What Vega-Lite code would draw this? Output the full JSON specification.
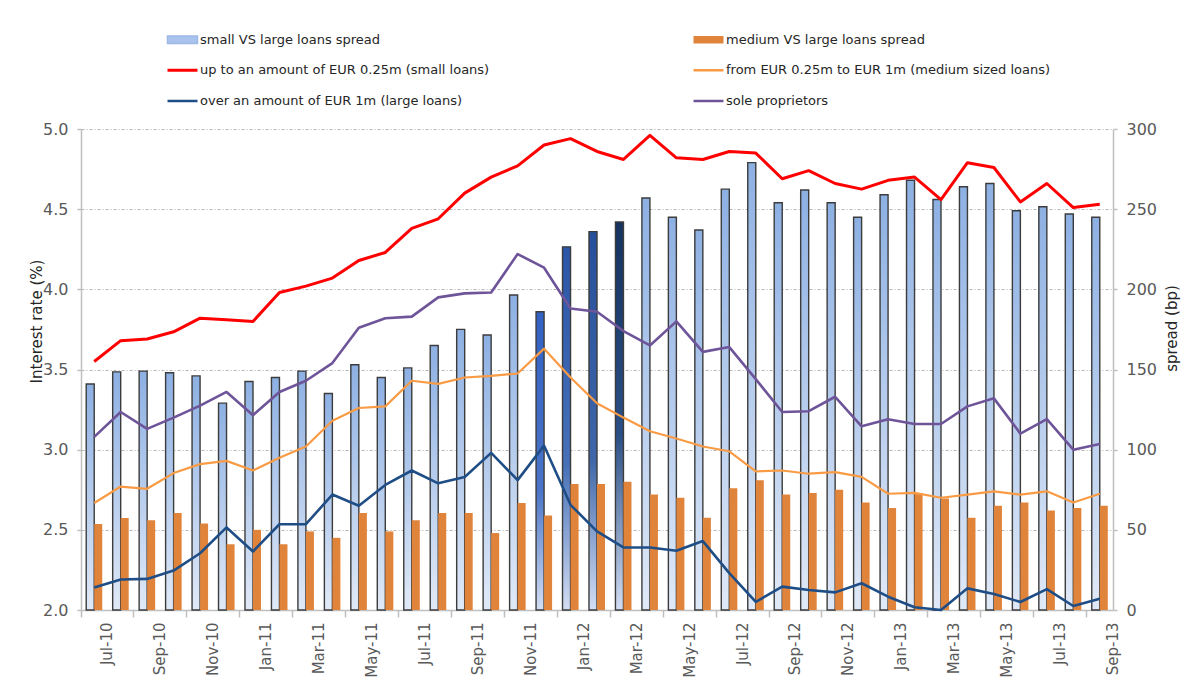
{
  "$schema": "https://vega.github.io/schema/vega-lite/v6.json",
  "width": 1032,
  "height": 481,
  "autosize": "none",
  "padding": {"left": 81, "top": 129, "right": 74, "bottom": 71},
  "background": "white",
  "config": {
    "font": "DejaVu Sans",
    "view": {"stroke": null},
    "axis": {"labelFont": "DejaVu Sans", "titleFont": "DejaVu Sans", "domainColor": "#bfbfbf", "domainWidth": 1.5, "tickColor": "#bfbfbf", "tickWidth": 1.5}
  },
  "data": {
    "values": [
      {"month": "Jul-10", "small": 3.55, "medium": 2.667, "large": 2.14, "sole": 3.08, "spread_small": 141, "spread_medium": 53.6},
      {"month": "Aug-10", "small": 3.68, "medium": 2.77, "large": 2.19, "sole": 3.235, "spread_small": 148.5, "spread_medium": 57.4},
      {"month": "Sep-10", "small": 3.69, "medium": 2.756, "large": 2.194, "sole": 3.13, "spread_small": 149, "spread_medium": 56},
      {"month": "Oct-10", "small": 3.735, "medium": 2.854, "large": 2.246, "sole": 3.2, "spread_small": 148, "spread_medium": 60.5},
      {"month": "Nov-10", "small": 3.82, "medium": 2.91, "large": 2.354, "sole": 3.275, "spread_small": 146, "spread_medium": 54},
      {"month": "Dec-10", "small": 3.81, "medium": 2.93, "large": 2.515, "sole": 3.36, "spread_small": 129, "spread_medium": 41},
      {"month": "Jan-11", "small": 3.8, "medium": 2.87, "large": 2.365, "sole": 3.215, "spread_small": 142.5, "spread_medium": 50},
      {"month": "Feb-11", "small": 3.98, "medium": 2.95, "large": 2.535, "sole": 3.36, "spread_small": 145, "spread_medium": 41},
      {"month": "Mar-11", "small": 4.02, "medium": 3.02, "large": 2.535, "sole": 3.43, "spread_small": 149, "spread_medium": 49},
      {"month": "Apr-11", "small": 4.07, "medium": 3.18, "large": 2.72, "sole": 3.54, "spread_small": 135, "spread_medium": 45},
      {"month": "May-11", "small": 4.18, "medium": 3.26, "large": 2.65, "sole": 3.76, "spread_small": 153, "spread_medium": 60.5},
      {"month": "Jun-11", "small": 4.23, "medium": 3.27, "large": 2.78, "sole": 3.82, "spread_small": 145, "spread_medium": 49},
      {"month": "Jul-11", "small": 4.38, "medium": 3.43, "large": 2.87, "sole": 3.83, "spread_small": 151, "spread_medium": 56},
      {"month": "Aug-11", "small": 4.44, "medium": 3.41, "large": 2.79, "sole": 3.95, "spread_small": 165, "spread_medium": 60.5},
      {"month": "Sep-11", "small": 4.6, "medium": 3.45, "large": 2.83, "sole": 3.975, "spread_small": 175, "spread_medium": 60.5},
      {"month": "Oct-11", "small": 4.7, "medium": 3.46, "large": 2.98, "sole": 3.98, "spread_small": 171.5, "spread_medium": 48},
      {"month": "Nov-11", "small": 4.77, "medium": 3.475, "large": 2.81, "sole": 4.22, "spread_small": 196.5, "spread_medium": 66.7},
      {"month": "Dec-11", "small": 4.9, "medium": 3.63, "large": 3.025, "sole": 4.135, "spread_small": 186, "spread_medium": 59},
      {"month": "Jan-12", "small": 4.94, "medium": 3.45, "large": 2.656, "sole": 3.88, "spread_small": 226.5, "spread_medium": 78.6},
      {"month": "Feb-12", "small": 4.86, "medium": 3.29, "large": 2.49, "sole": 3.86, "spread_small": 236, "spread_medium": 78.6},
      {"month": "Mar-12", "small": 4.81, "medium": 3.2, "large": 2.39, "sole": 3.74, "spread_small": 242, "spread_medium": 80},
      {"month": "Apr-12", "small": 4.96, "medium": 3.115, "large": 2.39, "sole": 3.65, "spread_small": 257, "spread_medium": 72},
      {"month": "May-12", "small": 4.82, "medium": 3.07, "large": 2.37, "sole": 3.8, "spread_small": 245, "spread_medium": 70},
      {"month": "Jun-12", "small": 4.81, "medium": 3.02, "large": 2.43, "sole": 3.61, "spread_small": 237, "spread_medium": 57.5},
      {"month": "Jul-12", "small": 4.86, "medium": 2.99, "large": 2.23, "sole": 3.64, "spread_small": 262.5, "spread_medium": 76},
      {"month": "Aug-12", "small": 4.85, "medium": 2.865, "large": 2.05, "sole": 3.44, "spread_small": 279, "spread_medium": 81},
      {"month": "Sep-12", "small": 4.69, "medium": 2.87, "large": 2.146, "sole": 3.235, "spread_small": 254, "spread_medium": 72},
      {"month": "Oct-12", "small": 4.74, "medium": 2.85, "large": 2.125, "sole": 3.24, "spread_small": 262, "spread_medium": 73},
      {"month": "Nov-12", "small": 4.66, "medium": 2.86, "large": 2.11, "sole": 3.33, "spread_small": 254, "spread_medium": 75},
      {"month": "Dec-12", "small": 4.625, "medium": 2.83, "large": 2.167, "sole": 3.146, "spread_small": 245, "spread_medium": 67},
      {"month": "Jan-13", "small": 4.68, "medium": 2.725, "large": 2.083, "sole": 3.19, "spread_small": 259, "spread_medium": 63.6},
      {"month": "Feb-13", "small": 4.7, "medium": 2.73, "large": 2.017, "sole": 3.16, "spread_small": 268, "spread_medium": 73},
      {"month": "Mar-13", "small": 4.56, "medium": 2.7, "large": 2.0, "sole": 3.16, "spread_small": 256, "spread_medium": 69.6},
      {"month": "Apr-13", "small": 4.79, "medium": 2.72, "large": 2.135, "sole": 3.27, "spread_small": 264, "spread_medium": 57.5},
      {"month": "May-13", "small": 4.76, "medium": 2.74, "large": 2.1, "sole": 3.32, "spread_small": 266, "spread_medium": 65},
      {"month": "Jun-13", "small": 4.545, "medium": 2.72, "large": 2.05, "sole": 3.1, "spread_small": 249, "spread_medium": 67},
      {"month": "Jul-13", "small": 4.66, "medium": 2.74, "large": 2.13, "sole": 3.19, "spread_small": 251.5, "spread_medium": 62},
      {"month": "Aug-13", "small": 4.51, "medium": 2.67, "large": 2.025, "sole": 3.0, "spread_small": 247, "spread_medium": 63.6},
      {"month": "Sep-13", "small": 4.53, "medium": 2.725, "large": 2.07, "sole": 3.035, "spread_small": 245, "spread_medium": 65}
    ]
  },
  "layer": [
    {
      "transform": [{"fold": ["spread_small", "spread_medium"], "as": ["key", "value"]}],
      "mark": {"type": "bar", "strokeWidth": 1.4},
      "encoding": {
        "x": {
          "field": "month", "type": "ordinal", "sort": null,
          "scale": {"paddingInner": 0, "paddingOuter": 0},
          "axis": {
            "title": null,
            "values": ["Jul-10", "Sep-10", "Nov-10", "Jan-11", "Mar-11", "May-11", "Jul-11", "Sep-11", "Nov-11", "Jan-12", "Mar-12", "May-12", "Jul-12", "Sep-12", "Nov-12", "Jan-13", "Mar-13", "May-13", "Jul-13", "Sep-13"],
            "bandPosition": 0,
            "labelOffset": 13.25,
            "labelAngle": -90,
            "labelFontSize": 15,
            "labelColor": "#595959",
            "tickSize": 7,
            "labelPadding": 5,
            "grid": false
          }
        },
        "xOffset": {"field": "key", "type": "nominal", "scale": {"domain": ["spread_small", "spread_medium"], "paddingInner": 0, "paddingOuter": 0.65}},
        "y": {
          "field": "value", "type": "quantitative",
          "scale": {"domain": [0, 300], "nice": false},
          "axis": {
            "orient": "right",
            "title": "spread (bp)",
            "titleAngle": -90,
            "titleX": 58,
            "titleY": 199,
            "titleAlign": "center",
            "titleBaseline": "middle",
            "titleFontSize": 15,
            "titleFontWeight": "normal",
            "titleColor": "#262626",
            "values": [0, 50, 100, 150, 200, 250, 300],
            "labelFontSize": 16,
            "labelColor": "#595959",
            "tickSize": 4,
            "labelPadding": 9,
            "grid": false
          }
        },
        "fill": {
          "condition": [
            {"test": "datum.key === 'spread_medium'", "value": "#e0843c"},
            {"test": "datum.month === 'Dec-11'", "value": {"gradient": "linear", "x1": 0, "y1": 0, "x2": 0, "y2": 1, "stops": [{"offset": 0, "color": "#3261c4"}, {"offset": 0.6, "color": "#4a74c8"}, {"offset": 1, "color": "#d3def3"}]}},
            {"test": "datum.month === 'Jan-12'", "value": {"gradient": "linear", "x1": 0, "y1": 0, "x2": 0, "y2": 1, "stops": [{"offset": 0, "color": "#2b56a8"}, {"offset": 0.6, "color": "#4670b8"}, {"offset": 1, "color": "#d3def3"}]}},
            {"test": "datum.month === 'Feb-12'", "value": {"gradient": "linear", "x1": 0, "y1": 0, "x2": 0, "y2": 1, "stops": [{"offset": 0, "color": "#27509c"}, {"offset": 0.6, "color": "#3f66a8"}, {"offset": 1, "color": "#d3def3"}]}},
            {"test": "datum.month === 'Mar-12'", "value": {"gradient": "linear", "x1": 0, "y1": 0, "x2": 0, "y2": 1, "stops": [{"offset": 0, "color": "#163360"}, {"offset": 0.55, "color": "#2a4f86"}, {"offset": 1, "color": "#d3def3"}]}}
          ],
          "value": {"gradient": "linear", "x1": 0, "y1": 0, "x2": 0, "y2": 1, "stops": [{"offset": 0, "color": "#8db0e3"}, {"offset": 1, "color": "#e0e9f7"}]}
        },
        "stroke": {"condition": {"test": "datum.key === 'spread_small'", "value": "#3c3c3c"}, "value": "transparent"}
      }
    },
    {
      "transform": [{"fold": ["small", "medium", "large", "sole"], "as": ["key", "value"]}],
      "mark": {"type": "line", "strokeJoin": "round"},
      "encoding": {
        "x": {"field": "month", "type": "ordinal", "sort": null},
        "y": {
          "field": "value", "type": "quantitative",
          "scale": {"domain": [2, 5], "zero": false, "nice": false},
          "axis": {
            "orient": "left",
            "title": "Interest rate (%)",
            "titleAngle": -90,
            "titleX": -45,
            "titleY": 192,
            "titleAlign": "center",
            "titleBaseline": "middle",
            "titleFontSize": 15,
            "titleFontWeight": "normal",
            "titleColor": "#262626",
            "values": [2, 2.5, 3, 3.5, 4, 4.5, 5],
            "format": ".1f",
            "labelFontSize": 16,
            "labelColor": "#595959",
            "tickSize": 4,
            "labelPadding": 9,
            "grid": true,
            "gridColor": "#b5b5b5",
            "gridDash": [3, 2, 1, 2],
            "gridWidth": 1
          }
        },
        "color": {
          "field": "key", "type": "nominal",
          "scale": {
            "domain": ["spread_small", "spread_medium", "small", "medium", "large", "sole"],
            "range": ["#9db9e6", "#e0843c", "#ff0000", "#f99b45", "#1f4e86", "#6e5499"]
          },
          "legend": {
            "orient": "none",
            "legendX": 95,
            "legendY": -96,
            "direction": "horizontal",
            "columns": 2,
            "title": null,
            "padding": 0,
            "symbolSize": 900,
            "labelOffset": 11,
            "rowPadding": 16.75,
            "columnPadding": 198,
            "labelFont": "DejaVu Sans",
            "labelFontSize": 13,
            "labelColor": "#262626",
            "labelLimit": 500,
            "labelExpr": "({'spread_small': 'small VS large loans spread', 'spread_medium': 'medium VS large loans spread', 'small': 'up to an amount of EUR 0.25m (small loans)', 'medium': 'from EUR 0.25m to EUR 1m (medium sized loans)', 'large': 'over an amount of EUR 1m (large loans)', 'sole': 'sole proprietors'})[datum.value]",
            "encode": {
              "symbols": {
                "update": {
                  "shape": {"signal": "(datum.value === 'spread_small' || datum.value === 'spread_medium') ? 'M-1,-0.25H1V0.25H-1Z' : 'M-1,0H1'"},
                  "fill": {"signal": "datum.value === 'spread_small' ? '#a9c3ec' : (datum.value === 'spread_medium' ? '#e0843c' : 'transparent')"},
                  "stroke": {"signal": "datum.value === 'spread_small' ? '#3c3c3c' : (datum.value === 'spread_medium' ? 'transparent' : scale('color', datum.value))"},
                  "strokeWidth": {"signal": "datum.value === 'spread_small' ? 1.5 : (datum.value === 'spread_medium' ? 0 : (datum.value === 'small' ? 3 : 2.5))"},
                  "opacity": {"value": 1}
                }
              }
            }
          }
        },
        "strokeWidth": {"condition": [{"test": "datum.key === 'small'", "value": 3}, {"test": "datum.key === 'medium'", "value": 2.2}], "value": 2.6}
      }
    }
  ],
  "resolve": {"scale": {"y": "independent"}}
}
